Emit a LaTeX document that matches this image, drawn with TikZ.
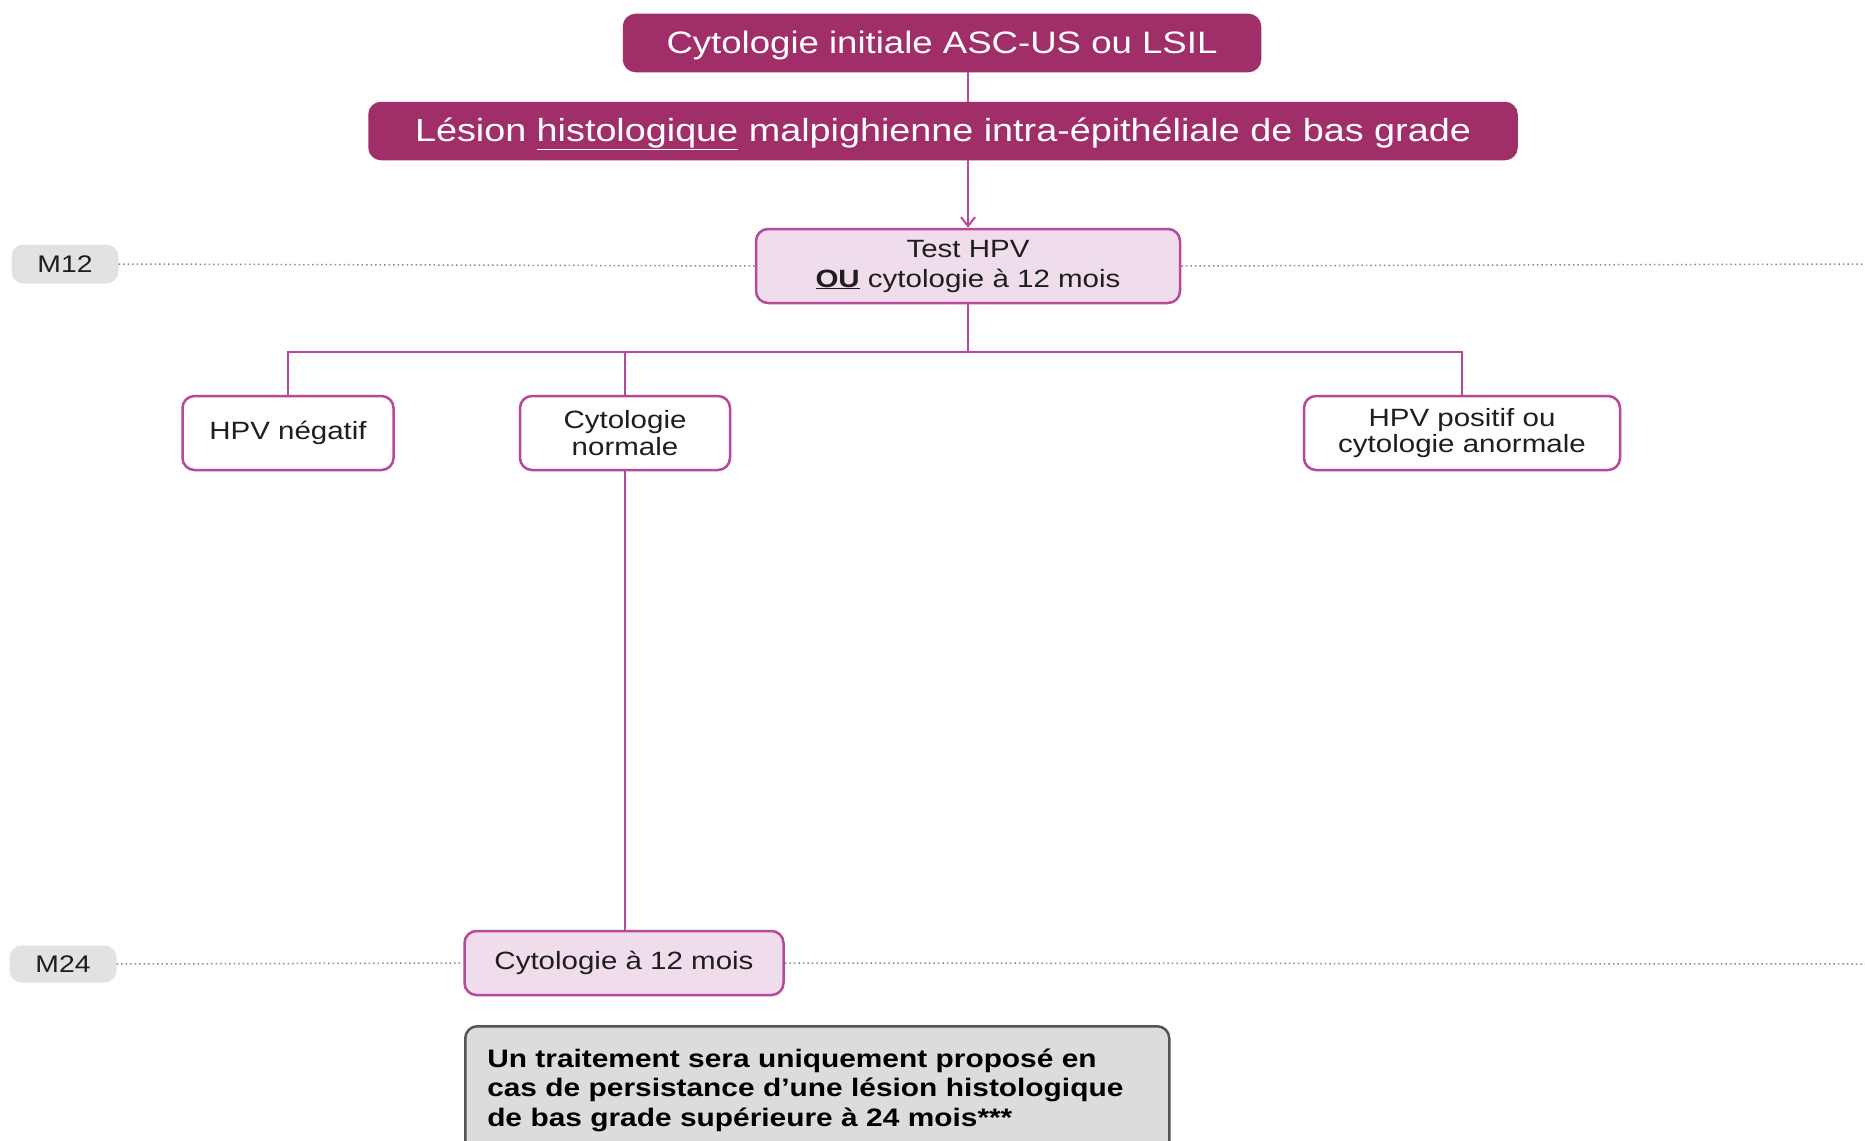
\documentclass[tikz,border=0pt]{standalone}
\usepackage{fontspec}
\setmainfont{Liberation Sans}[FakeStretch=1.18]
\usetikzlibrary{arrows.meta}
\definecolor{plum}{HTML}{A02E68}
\definecolor{orchid}{HTML}{B8489A}
\definecolor{blush}{HTML}{F0DDEB}
\definecolor{chip}{HTML}{E2E2E2}
\definecolor{notefill}{HTML}{DCDCDC}
\definecolor{noteline}{HTML}{555555}
\definecolor{ink}{HTML}{1E1E1E}
\definecolor{dotgray}{HTML}{8A8A8A}
\begin{document}
\begin{tikzpicture}[x=1pt,y=-1pt,
  headbox/.style={draw=plum, fill=plum, rounded corners=12pt, line width=1.5pt,
    text=white, font=\fontsize{31}{36}\selectfont, inner sep=0pt,
    text height=21pt, text depth=0pt},
  stepbox/.style={draw=orchid, fill=blush, rounded corners=12pt, line width=2.5pt,
    text=ink, font=\fontsize{25}{30}\selectfont, align=center, inner sep=0pt},
  outcome/.style={draw=orchid, fill=white, rounded corners=12pt, line width=2.5pt,
    text=ink, font=\fontsize{25}{26.5}\selectfont, align=center, inner sep=0pt},
  timechip/.style={fill=chip, rounded corners=12pt, text=ink,
    font=\fontsize{24}{28}\selectfont, inner sep=0pt},
  link/.style={draw=orchid, line width=2.7pt},
  timeline/.style={draw=dotgray, line width=1.5pt, dash pattern=on 1.5pt off 3pt}
]
\useasboundingbox (0,0) rectangle (1865,1140);
\clip (0,0) rectangle (1865,1140);

% header boxes
\node[headbox, minimum width=637pt, minimum height=57pt] (init) at (942,43)
  {Cytologie initiale ASC-US ou LSIL};
\node[headbox, minimum width=1148pt, minimum height=57pt,
  font=\fontsize{32}{36}\selectfont] (lesion) at (943,131)
  {Lésion \underline{histologique} malpighienne intra-épithéliale de bas grade};

% test at 12 months
\node[stepbox, minimum width=424pt, minimum height=74pt] (test) at (968,266)
  {Test HPV\\\textbf{\underline{OU}} cytologie à 12 mois};

% outcomes
\node[outcome, minimum width=211pt, minimum height=74pt] (neg) at (288,433) {HPV négatif};
\node[outcome, minimum width=210pt, minimum height=74pt] (norm) at (625,433) {Cytologie\\normale};
\node[outcome, minimum width=316pt, minimum height=74pt] (pos) at (1462,433) {HPV positif ou\\cytologie anormale};

% control at 24 months
\node[stepbox, minimum width=319pt, minimum height=64pt] (cyto) at (624,963) {Cytologie à 12 mois};

% time markers
\node[timechip, minimum width=107pt, minimum height=39pt] (m12) at (65,264) {M12};
\node[timechip, minimum width=107pt, minimum height=37pt] (m24) at (63,964) {M24};
\coordinate (r12) at (1865,264);
\coordinate (r24) at (1865,964);

% treatment note
\node[draw=noteline, fill=notefill, rounded corners=12pt, line width=2.5pt,
  anchor=north west, minimum width=704pt, minimum height=128pt,
  text width=660pt, align=left, inner xsep=22pt, inner ysep=0pt,
  font=\fontsize{25.3}{29.5}\selectfont\bfseries, text=black] (note) at (464,1025)
  {Un traitement sera uniquement proposé en\\
   cas de persistance d’une lésion histologique\\
   de bas grade supérieure à 24 mois***};

% timelines
\draw[timeline] (m12.east) -- (test.west);
\draw[timeline] (test.east) -- (r12);
\draw[timeline] (m24.east) -- (cyto.west);
\draw[timeline] (cyto.east) -- (r24);

% connectors
\coordinate (bar) at (968,352);
\draw[link] (init.south -| test.north) -- (lesion.north -| test.north);
\draw[link, -{Straight Barb[length=9pt, width=14pt, line width=2pt]}] (lesion.south -| test.north) -- (test.north);
\draw[link] (test.south) -- (test.south |- bar);
\draw[link] (neg.north) -- (neg.north |- bar) -- (pos.north |- bar) -- (pos.north);
\draw[link] (norm.north) -- (norm.north |- bar);
\draw[link] (norm.south) -- (norm.south |- cyto.north);
\end{tikzpicture}
\end{document}
